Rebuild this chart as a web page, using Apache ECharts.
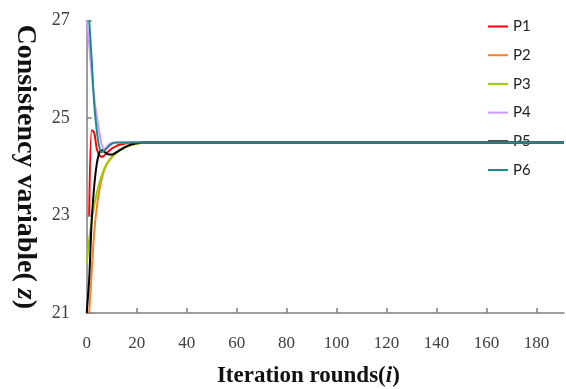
<!DOCTYPE html>
<html>
<head>
<meta charset="utf-8">
<script src="https://cdn.jsdelivr.net/npm/echarts@6/dist/echarts.min.js"></script>
<style>html,body{margin:0;padding:0;background:#fff}#c{width:566px;height:389px}</style>
</head>
<body>
<div id="c"></div>
<script>
const iterations = [0,1,2,3,4,5,6,7,8,9,10,11,12,13,14,15,16,17,18,19,20,21,22,23,24,25,30,50,100,150,191];
const seriesNames = ['P1','P2','P3','P4','P5','P6'];
const p1 = [null,23,24.75,24.7,24.38,24.24,24.2,24.23,24.28,24.33,24.37,24.4,24.43,24.45,24.46,24.47,24.48,24.49,24.49,24.5,24.5,24.5,24.5,24.5,24.5,24.5,24.5,24.5,24.5,24.5,24.5];
const p2 = [null,21,21.85,22.65,23.15,23.5,23.75,23.93,24.05,24.13,24.2,24.25,24.3,24.34,24.37,24.4,24.42,24.44,24.45,24.46,24.47,24.48,24.49,24.49,24.5,24.5,24.5,24.5,24.5,24.5,24.5];
const p3 = [22,22.5,22.9,23.2,23.45,23.65,23.82,23.95,24.06,24.13,24.19,24.25,24.29,24.33,24.36,24.39,24.41,24.43,24.45,24.46,24.47,24.48,24.49,24.49,24.5,24.5,24.5,24.5,24.5,24.5,24.5];
const p4 = [27,26.5,25.9,25.4,25.05,24.72,24.46,24.36,24.4,24.46,24.49,24.5,24.5,24.5,24.5,24.5,24.5,24.5,24.5,24.5,24.5,24.5,24.5,24.5,24.5,24.5,24.5,24.5,24.5,24.5,24.5];
const p5 = [21,21.7,22.9,23.6,24.05,24.28,24.34,24.31,24.27,24.25,24.25,24.27,24.3,24.33,24.36,24.39,24.42,24.44,24.46,24.47,24.48,24.49,24.5,24.5,24.5,24.5,24.5,24.5,24.5,24.5,24.5];
const p6 = [null,27,26.2,25.3,24.75,24.42,24.3,24.33,24.38,24.43,24.47,24.49,24.5,24.5,24.5,24.5,24.5,24.5,24.5,24.5,24.5,24.5,24.5,24.5,24.5,24.5,24.5,24.5,24.5,24.5,24.5];
const xTicks = [0,20,40,60,80,100,120,140,160,180];
const yTicks = [21,23,25,27];
const colors = ['#ff0000','#ff7f27','#99cc00','#cc99ff','#000000','#1a8c8c'];

const allValues = [p1,p2,p3,p4,p5,p6];
const chart = echarts.init(document.getElementById('c'), null, {renderer:'canvas'});
const axisGray = '#7f7f7f';
const serif = 'Liberation Serif';
const tickText = {fontFamily:serif, fontSize:18, color:'#404040'};
chart.setOption({
  animation:false,
  textStyle:{fontFamily:serif},
  grid:{left:86.7, top:20.5, right:2, bottom:76, containLabel:false, outerBoundsMode:'none'},
  legend:{
    orient:'vertical', left:483, top:14, z:1,
    icon:'rect', itemWidth:20, itemHeight:2, itemGap:13.7,
    textStyle:{fontFamily:'Lato', fontSize:15, lineHeight:15, color:'#222'},
    data:seriesNames
  },
  xAxis:{
    type:'value', min:0, max:191,
    axisLine:{lineStyle:{color:axisGray, width:1.5}},
    axisTick:{inside:true, length:5, customValues:xTicks, lineStyle:{color:axisGray, width:1.5}},
    axisLabel:{customValues:xTicks, margin:22, fontFamily:serif, fontSize:17, color:'#404040',
      formatter:v=>'{s|'+v+'}', rich:{s:{fontFamily:serif, fontSize:17, color:'#404040'}}},
    splitLine:{show:false},
    name:'{a|Iteration rounds(}{b|i}{a|)}', nameLocation:'middle', nameGap:52,
    nameTextStyle:{padding:[0,34,0,0], rich:{
      a:{fontFamily:serif, fontWeight:'bold', fontSize:23, color:'#111'},
      b:{fontFamily:serif, fontWeight:'bold', fontStyle:'italic', fontSize:23, color:'#111'}
    }}
  },
  yAxis:{
    type:'value', min:21, max:27,
    axisLine:{show:true, lineStyle:{color:axisGray, width:1.5}},
    axisTick:{show:true, inside:true, length:5, customValues:yTicks, lineStyle:{color:axisGray, width:1.5}},
    axisLabel:{customValues:yTicks, margin:17, fontFamily:serif, fontSize:18, color:'#404040',
      formatter:v=>'{s|'+v+'}', rich:{s:tickText}},
    splitLine:{show:false},
    name:'{a|Consistency variable( }{b|z}{a|)}', nameLocation:'middle', nameGap:47, nameRotate:-90,
    nameTextStyle:{rich:{
      a:{fontFamily:serif, fontWeight:'bold', fontSize:28, color:'#111'},
      b:{fontFamily:serif, fontWeight:'bold', fontStyle:'italic', fontSize:28, color:'#111'}
    }}
  },
  series: seriesNames.map((n,k)=>({
    name:n, type:'line', smooth:0.3, showSymbol:false, symbol:'none',
    z:2+k,
    lineStyle:{color:colors[k], width:2},
    itemStyle:{color:colors[k]},
    data: iterations.map((x,i)=>[x, allValues[k][i]]).filter(d=>d[1]!==null)
  }))
});
</script>
</body>
</html>
